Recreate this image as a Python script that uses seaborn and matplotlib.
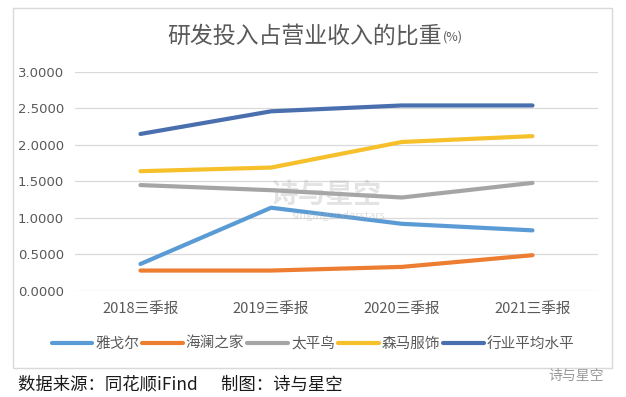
import pandas as pd
import matplotlib.pyplot as plt
import seaborn as sns
from matplotlib.patches import Rectangle

# 数据
periods = ['2018三季报', '2019三季报', '2020三季报', '2021三季报']
companies = ['雅戈尔', '海澜之家', '太平鸟', '森马服饰', '行业平均水平']
youngor = [0.37, 1.14, 0.92, 0.83]
hla = [0.28, 0.28, 0.33, 0.49]
peacebird = [1.45, 1.38, 1.28, 1.48]
semir = [1.64, 1.69, 2.04, 2.12]
industry = [2.15, 2.46, 2.54, 2.54]
yticks = [0.0, 0.5, 1.0, 1.5, 2.0, 2.5, 3.0]

colors = ['#5B9BD5', '#ED7D31', '#A5A5A5', '#F5C02A', '#4A6FAE']


def main():
    series = [youngor, hla, peacebird, semir, industry]
    rows = []
    for name, vals in zip(companies, series):
        for p, v in zip(periods, vals):
            rows.append({'period': p, 'value': v, 'company': name})
    df = pd.DataFrame(rows)

    sns.set_theme(style="white")
    plt.rcParams['font.family'] = ['Noto Sans CJK SC', 'DejaVu Sans']

    fig = plt.figure(figsize=(6.26, 3.97), dpi=100)
    ax = fig.add_axes([0.12, 0.267, 0.835, 0.552])

    sns.lineplot(data=df, x='period', y='value', hue='company',
                 hue_order=companies, palette=colors, linewidth=3,
                 sort=False, ax=ax, legend=False, solid_capstyle='round')

    ax.set_ylim(0, 3)
    ax.set_xlim(-0.5, 3.5)
    ax.set_yticks(yticks)
    ax.set_yticklabels([f'{t:.4f}' for t in yticks], fontsize=9.5,
                       color='#595959', family=['DejaVu Sans'])
    ax.tick_params(axis='x', labelsize=10.5, labelcolor='#595959', pad=8,
                   length=0)
    ax.tick_params(axis='y', length=0, pad=8)
    ax.yaxis.grid(True, color='#D9D9D9', linewidth=0.9)
    ax.set_axisbelow(True)
    for s in ax.spines.values():
        s.set_visible(False)
    ax.set_xlabel('')
    ax.set_ylabel('')

    # 外框
    fig.patches.append(Rectangle((13 / 626, 1 - 368 / 397), 599 / 626, 360 / 397,
                                 transform=fig.transFigure, fill=False,
                                 edgecolor='#D9D9D9', linewidth=1))

    # 标题
    fig.text(442 / 626, 1 - 36 / 397, '研发投入占营业收入的比重', ha='right', va='center',
             fontsize=16.5, color='#595959')
    fig.text(443 / 626, 1 - 37 / 397, '(%)', ha='left', va='center',
             fontsize=9, color='#595959')

    # 水印
    fig.text(0.52, 0.51, '诗与星空', ha='center', va='center', fontsize=20,
             color='#B0B0B0', alpha=0.35, fontweight='bold')
    fig.text(0.54, 0.455, 'singingunderstars', ha='center', va='center',
             fontsize=8, color='#B0B0B0', alpha=0.4)

    # 图例
    handles = [plt.Line2D([], [], color=c, linewidth=3) for c in colors]
    fig.legend(handles, companies, loc='center', bbox_to_anchor=(0.5, 1 - 344 / 397),
               ncol=5, frameon=False, fontsize=10.5, handlelength=2.8,
               handletextpad=0.2, columnspacing=0.2, labelcolor='#595959')

    # 注释
    fig.text(18 / 626, 1 - 384 / 397, '数据来源：同花顺iFind      制图：诗与星空',
             ha='left', va='center', fontsize=12.5, color='#1A1A1A')
    fig.text(0.92, 1 - 376 / 397, '诗与星空', ha='center', va='center',
             fontsize=10, color='#9A9A9A')

    fig.savefig('out.png', dpi=100)
    plt.close(fig)


if __name__ == '__main__':
    main()
